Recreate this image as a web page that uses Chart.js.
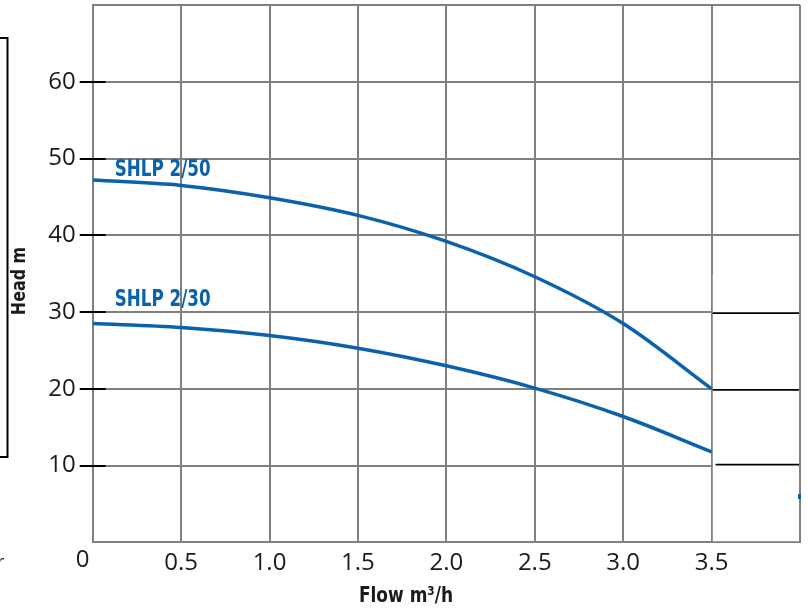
<!DOCTYPE html>
<html>
<head>
<meta charset="utf-8">
<script src="https://cdn.jsdelivr.net/npm/chart.js@4/dist/chart.umd.min.js"></script>
<style>
  html, body { margin: 0; padding: 0; background: #fff; }
  #wrap { width: 808px; height: 610px; }
</style>
</head>
<body>
<div id="wrap"><canvas id="c" width="808" height="610"></canvas></div>
<script>
// ---- data ----
const flow = [0, 0.5, 1.0, 1.5, 2.0, 2.5, 3.0, 3.5];
const headShlp250 = [47.2, 46.5, 44.9, 42.6, 39.2, 34.6, 28.5, 20.0];
const headShlp230 = [28.5, 28.0, 26.95, 25.3, 23.0, 20.1, 16.4, 11.8];
const seriesNames = ['SHLP 2/50', 'SHLP 2/30'];
const xTickValues = [0.5, 1.0, 1.5, 2.0, 2.5, 3.0, 3.5];
const yTickValues = [10, 20, 30, 40, 50, 60];
const xTitle = 'Flow m³/h';
const yTitle = 'Head m';

const BLUE = '#0a62ad';
const GRID = '#808080';
const TEXT = '#1a1a1a';
const NUM_FONT = "'Open Sans', 'Noto Sans', sans-serif";
const COND_FONT = "'DejaVu Sans Condensed', 'DejaVu Sans', sans-serif";

const toPts = (xs, ys) => xs.map((x, i) => ({ x: x, y: ys[i] }));

function narrowText(ctx, txt, px, py, sx) {
  ctx.save();
  ctx.translate(px, py);
  ctx.scale(sx, 1);
  ctx.fillText(txt, 0, 0);
  ctx.restore();
}

const decor = {
  id: 'decor',
  beforeDatasetsDraw(chart) {
    const { ctx, chartArea: a, scales: { x, y } } = chart;
    const x35 = x.getPixelForValue(3.5), x40 = x.getPixelForValue(4);
    ctx.save();
    // pasted-over patch at the right end of the plot
    ctx.fillStyle = '#fff';
    ctx.fillRect(x35 + 1.2, 274, x40 - x35 - 2.4, a.bottom - 1.2 - 274);
    ctx.strokeStyle = '#000';
    ctx.lineWidth = 1.6;
    [[30, 1, 1], [20, 1, 1], [10, -1, 4]].forEach(([v, dy, dx]) => {
      const py = y.getPixelForValue(v) + dy;
      ctx.beginPath();
      ctx.moveTo(x35 + dx, py);
      ctx.lineTo(x40 - 1, py);
      ctx.stroke();
    });
    // black y tick marks crossing the axis
    ctx.lineWidth = 2;
    yTickValues.forEach(v => {
      const py = Math.round(y.getPixelForValue(v));
      ctx.beginPath();
      ctx.moveTo(a.left - 13, py);
      ctx.lineTo(a.left + 13, py);
      ctx.stroke();
    });
    ctx.restore();
  },
  afterDraw(chart) {
    const { ctx, chartArea: a, scales: { x, y } } = chart;
    ctx.save();
    // series labels
    ctx.fillStyle = BLUE;
    ctx.font = "bold 23px " + COND_FONT;
    ctx.textBaseline = 'alphabetic';
    ctx.textAlign = 'left';
    narrowText(ctx, seriesNames[0], a.left + 22, y.getPixelForValue(47.2) - 4, 0.81);
    narrowText(ctx, seriesNames[1], a.left + 22, y.getPixelForValue(28.5) - 18, 0.81);
    // origin label
    ctx.fillStyle = TEXT;
    ctx.font = "24px " + NUM_FONT;
    ctx.textAlign = 'center';
    ctx.textBaseline = 'middle';
    ctx.fillText('0', x.getPixelForValue(0) - 10, a.bottom + 18);
    // stray letter at bottom-left edge
    ctx.font = "18px " + NUM_FONT;
    ctx.textAlign = 'left';
    ctx.fillText('r', -3, 563);
    // axis titles
    ctx.font = "bold 21px " + COND_FONT;
    ctx.textAlign = 'center';
    narrowText(ctx, xTitle, 406, 597, 0.9);
    ctx.save();
    ctx.translate(20, 281);
    ctx.rotate(-Math.PI / 2);
    ctx.font = "bold 19px " + COND_FONT;
    narrowText(ctx, yTitle, 0, 0, 0.93);
    ctx.restore();
    // left frame fragment
    ctx.strokeStyle = '#000';
    ctx.lineWidth = 2;
    ctx.beginPath();
    ctx.moveTo(0, 38);
    ctx.lineTo(7.5, 38);
    ctx.lineTo(7.5, 457);
    ctx.lineTo(0, 457);
    ctx.stroke();
    // blue speck at right edge
    ctx.fillStyle = BLUE;
    ctx.fillRect(798, 494, 3, 5);
    ctx.restore();
  }
};

new Chart(document.getElementById('c'), {
  type: 'line',
  data: {
    datasets: [
      { label: seriesNames[0], data: toPts(flow, headShlp250) },
      { label: seriesNames[1], data: toPts(flow, headShlp230) }
    ].map(d => Object.assign(d, {
      borderColor: BLUE, borderWidth: 3.5, pointRadius: 0,
      cubicInterpolationMode: 'monotone', fill: false
    }))
  },
  options: {
    responsive: false,
    animation: false,
    devicePixelRatio: 1,
    layout: { padding: { top: 5, right: 8, left: 0, bottom: 0 } },
    plugins: { legend: { display: false }, tooltip: { enabled: false } },
    scales: {
      x: {
        type: 'linear', min: 0, max: 4,
        grid: { color: GRID, lineWidth: 2, drawTicks: false },
        border: { color: GRID, width: 2 },
        ticks: {
          stepSize: 0.5, autoSkip: false, maxRotation: 0, padding: 6,
          color: TEXT, font: { family: NUM_FONT, size: 24 },
          callback: v => xTickValues.some(t => Math.abs(t - v) < 1e-6) ? Number(v).toFixed(1) : ''
        },
        afterFit: s => { s.height = 67.6; s.paddingLeft = 0; s.paddingRight = 0; }
      },
      y: {
        min: 0, max: 70,
        grid: { color: GRID, lineWidth: 2, drawTicks: false },
        border: { color: GRID, width: 2 },
        ticks: {
          stepSize: 10, padding: 17,
          color: TEXT, font: { family: NUM_FONT, size: 24 },
          callback: v => yTickValues.includes(v) ? String(v) : ''
        },
        afterFit: s => { s.width = 92.7; s.paddingTop = 0; s.paddingBottom = 0; }
      }
    }
  },
  plugins: [decor]
});
</script>
</body>
</html>
